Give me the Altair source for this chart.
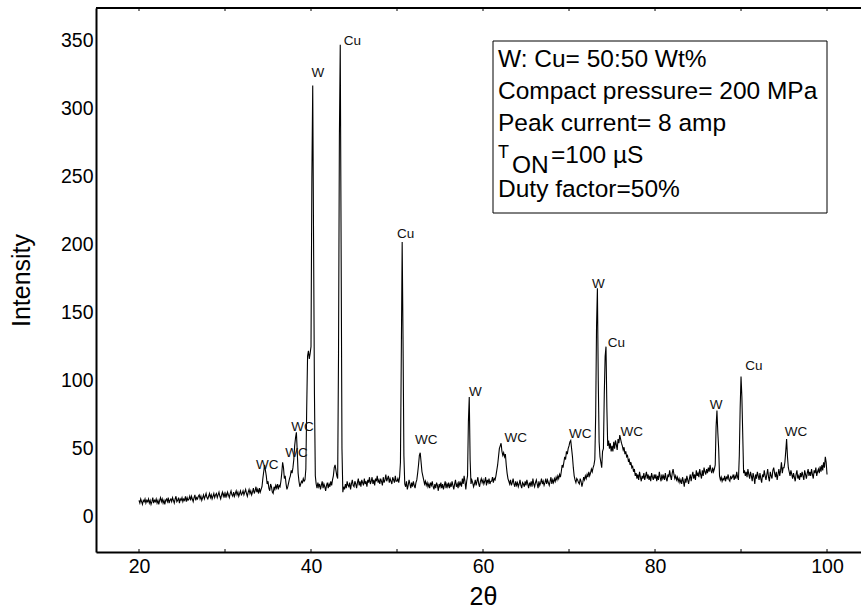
import altair as alt
import pandas as pd

FONT = "Liberation Sans"

# ---- XRD pattern: intensity sampled every 0.1 deg from 20.0 to 100.0 (2-theta) ----
START = 20.0
STEP = 0.1
intensity = [
    12, 10, 13, 11, 9, 12, 11, 13, 10, 12,      # 20
    11, 13, 10, 12, 9, 11, 14, 10, 12, 11,      # 21
    13, 10, 12, 9, 12, 14, 11, 13, 10, 12,      # 22
    9, 12, 13, 11, 14, 10, 12, 13, 11, 14,      # 23
    12, 10, 13, 15, 11, 12, 14, 10, 13, 12,     # 24
    14, 11, 13, 12, 15, 11, 14, 12, 13, 15,     # 25
    12, 15, 13, 11, 14, 16, 12, 14, 13, 15,     # 26
    16, 13, 15, 12, 14, 16, 13, 15, 17, 14,     # 27
    13, 15, 17, 14, 16, 13, 15, 17, 14, 16,     # 28
    17, 14, 16, 18, 15, 13, 16, 18, 15, 17,     # 29
    14, 17, 15, 18, 16, 14, 17, 19, 16, 15,     # 30
    18, 15, 17, 19, 16, 18, 15, 17, 19, 16,     # 31
    17, 19, 16, 18, 20, 17, 15, 18, 20, 17,     # 32
    19, 16, 18, 21, 17, 19, 22, 18, 20, 17,     # 33
    21, 18, 20, 22, 28, 33, 38, 34, 30, 24,     # 34
    26, 21, 19, 24, 22, 18, 17, 22, 20, 23,     # 35
    21, 24, 20, 23, 22, 26, 32, 40, 36, 28,     # 36
    30, 24, 20, 22, 25, 28, 30, 34, 32, 36,     # 37
    42, 52, 58, 62, 48, 32, 26, 22, 24, 26,     # 38
    25, 28, 26, 27, 35, 80, 118, 122, 116, 120, # 39
    125, 250, 317, 200, 90, 30, 24, 21, 25, 22, # 40
    24, 20, 23, 26, 21, 24, 22, 19, 23, 25,     # 41
    21, 24, 22, 26, 23, 27, 30, 36, 38, 34,     # 42
    30, 28, 120, 280, 347, 200, 50, 18, 22, 20, # 43
    24, 21, 26, 23, 22, 25, 20, 24, 27, 23,     # 44
    22, 26, 24, 21, 25, 28, 23, 26, 22, 27,     # 45
    25, 23, 28, 24, 26, 22, 27, 25, 29, 24,     # 46
    26, 29, 24, 27, 23, 28, 26, 30, 25, 27,     # 47
    24, 28, 26, 23, 29, 25, 27, 31, 26, 28,     # 48
    30, 25, 28, 26, 24, 29, 27, 25, 30, 26,     # 49
    26, 28, 25, 29, 40, 120, 202, 130, 45, 24,  # 50
    22, 26, 20, 23, 27, 24, 21, 25, 22, 26,     # 51
    23, 21, 25, 27, 32, 38, 45, 47, 40, 33,     # 52
    30, 27, 24, 26, 23, 25, 22, 24, 21, 25,     # 53
    23, 26, 22, 20, 24, 21, 25, 23, 19, 24,     # 54
    22, 25, 21, 24, 20, 23, 26, 21, 24, 22,     # 55
    25, 21, 24, 22, 26, 23, 20, 24, 27, 22,     # 56
    24, 21, 26, 23, 25, 22, 28, 24, 30, 26,     # 57
    20, 26, 30, 70, 88, 42, 24, 27, 25, 22,     # 58
    24, 27, 23, 26, 29, 24, 22, 26, 28, 25,     # 59
    27, 24, 26, 29, 23, 27, 25, 28, 24, 26,     # 60
    26, 29, 25, 28, 27, 30, 34, 38, 44, 50,     # 61
    52, 54, 48, 45, 47, 44, 46, 38, 32, 28,     # 62
    26, 24, 27, 23, 25, 28, 24, 22, 26, 23,     # 63
    25, 22, 24, 27, 23, 21, 25, 24, 22, 26,     # 64
    23, 27, 24, 21, 25, 23, 26, 22, 28, 24,     # 65
    22, 25, 27, 24, 21, 26, 23, 25, 28, 24,     # 66
    26, 23, 25, 28, 24, 27, 25, 23, 26, 29,     # 67
    24, 27, 25, 28, 26, 29, 27, 30, 28, 31,     # 68
    29, 33, 38, 36, 40, 44, 42, 48, 46, 50,     # 69
    52, 55, 56, 50, 44, 36, 30, 27, 25, 28,     # 70
    27, 25, 24, 28, 26, 22, 25, 29, 27, 30,     # 71
    28, 31, 29, 33, 30, 32, 35, 33, 36, 38,     # 72
    42, 75, 140, 168, 100, 55, 44, 40, 36, 48,  # 73
    50, 90, 118, 125, 80, 52, 56, 50, 54, 48,   # 74
    52, 48, 55, 50, 56, 53, 49, 57, 54, 60,     # 75
    57, 54, 52, 49, 51, 46, 48, 44, 45, 41,     # 76
    42, 38, 40, 36, 37, 33, 35, 30, 32, 28,     # 77
    31, 27, 33, 29, 26, 30, 28, 32, 27, 30,     # 78
    33, 28, 31, 27, 30, 26, 32, 29, 27, 31,     # 79
    28, 31, 26, 30, 27, 33, 29, 26, 31, 28,     # 80
    30, 27, 32, 28, 26, 31, 29, 34, 30, 27,     # 81
    32, 35, 31, 28, 30, 27, 29, 26, 28, 25,     # 82
    27, 24, 29, 26, 22, 28, 25, 30, 27, 24,     # 83
    28, 31, 26, 30, 33, 28, 31, 27, 34, 30,     # 84
    32, 29, 35, 31, 28, 34, 30, 36, 33, 31,     # 85
    35, 32, 36, 33, 38, 34, 32, 36, 33, 35,     # 86
    38, 66, 78, 62, 50, 30, 27, 29, 26, 28,     # 87
    27, 30, 26, 29, 28, 31, 27, 26, 30, 28,     # 88
    29, 31, 27, 30, 28, 33, 29, 27, 45, 80,     # 89
    103, 88, 60, 32, 34, 30, 33, 29, 35, 31,    # 90
    28, 33, 30, 26, 32, 29, 24, 31, 28, 33,     # 91
    30, 27, 32, 28, 25, 31, 29, 34, 30, 27,     # 92
    31, 35, 29, 26, 33, 30, 28, 34, 36, 32,     # 93
    29, 33, 27, 31, 35, 30, 34, 40, 32, 36,     # 94
    36, 40, 48, 57, 44, 36, 33, 30, 34, 31,     # 95
    28, 32, 29, 26, 31, 34, 28, 30, 27, 32,     # 96
    29, 33, 30, 27, 34, 31, 28, 32, 35, 30,     # 97
    33, 30, 35, 31, 28, 34, 32, 36, 30, 33,     # 98
    35, 32, 37, 33, 38, 34, 40, 36, 44, 40,     # 99
    31,                                         # 100
]
two_theta = [round(START + i * STEP, 1) for i in range(len(intensity))]

# ---- peak identification labels (placed where they appear in the figure) ----
peak_labels = ["WC", "WC", "WC", "W", "Cu", "Cu", "WC", "W", "WC", "WC",
               "W", "Cu", "WC", "W", "Cu", "WC"]
label_2theta = [34.9, 38.3, 39.0, 40.8, 44.8, 51.0, 53.4, 59.1, 63.8, 71.3,
                73.4, 75.5, 77.3, 87.1, 91.5, 96.4]
label_intensity = [38, 47, 66, 326, 350, 208, 56, 92, 58, 61,
                   171, 128, 62, 82, 111, 62]

# ---- axes ----
x_ticks = [20, 40, 60, 80, 100]
x_minor = [20, 30, 40, 50, 60, 70, 80, 90, 100]
y_ticks = [0, 50, 100, 150, 200, 250, 300, 350]
x_domain = [15, 103.95]
y_domain = [-26, 374]

# ---- info box text ----
info_lines = ["W: Cu= 50:50 Wt%", "Compact pressure= 200 MPa", "Peak current= 8 amp"]
ton_main, ton_sub, ton_rest = "T", "ON", "=100 µS"
duty_line = "Duty factor=50%"

W, H = 765, 544

df = pd.DataFrame({"two_theta": two_theta, "intensity": intensity})
lab = pd.DataFrame({"two_theta": label_2theta, "intensity": label_intensity, "t": peak_labels})
minor = pd.DataFrame({"two_theta": x_minor})
one = pd.DataFrame({"k": [0]})

xs = alt.Scale(domain=x_domain, nice=False, zero=False)
ys = alt.Scale(domain=y_domain, nice=False, zero=False)

x_axis = alt.Axis(values=x_ticks, ticks=False, grid=False, labelPadding=5)
y_axis = alt.Axis(values=y_ticks, ticks=False, grid=False, labelPadding=3)

X = alt.X("two_theta:Q", scale=xs, axis=x_axis, title="2θ")
Y = alt.Y("intensity:Q", scale=ys, axis=y_axis, title="Intensity")

line = alt.Chart(df).mark_line(color="black", strokeWidth=1.1).encode(x=X, y=Y)

labels = alt.Chart(lab).mark_text(font=FONT, fontSize=13.5, color="#111",
                                  align="center", baseline="middle").encode(
    x=X, y=Y, text="t:N",
)

bottom_ticks = alt.Chart(minor).mark_rule(color="black", strokeWidth=1).encode(
    x=X, y=alt.value(H), y2=alt.value(H - 3))
top_ticks = alt.Chart(minor).mark_rule(color="black", strokeWidth=1).encode(
    x=X, y=alt.value(0), y2=alt.value(3))

top_border = alt.Chart(one).mark_rule(color="black", strokeWidth=2).encode(
    x=alt.value(0), x2=alt.value(W), y=alt.value(0))

box = alt.Chart(one).mark_rect(filled=False, stroke="black", strokeWidth=1).encode(
    x=alt.value(397), x2=alt.value(731), y=alt.value(33), y2=alt.value(205))

def txt(s, x, y, size=24.5):
    return alt.Chart(pd.DataFrame({"s": [s]})).mark_text(
        font=FONT, fontSize=size, color="black", align="left", baseline="alphabetic"
    ).encode(x=alt.value(x), y=alt.value(y), text="s:N")

texts = [
    txt(info_lines[0], 402, 59),
    txt(info_lines[1], 402, 91),
    txt(info_lines[2], 402, 123),
    txt(ton_main, 402, 150, 18),
    txt(ton_sub, 416, 165),
    txt(ton_rest, 455, 155),
    txt(duty_line, 402, 189),
]

chart = alt.layer(line, labels, bottom_ticks, top_ticks, top_border, box, *texts).properties(
    width=W, height=H,
    autosize=alt.AutoSizeParams(type="none"),
    padding={"left": 96, "top": 8, "right": 0, "bottom": 61},
).configure_view(stroke=None).configure(background="white").configure_axis(
    domainColor="black", domainWidth=2, labelColor="black", titleColor="black",
    labelFont=FONT, titleFont=FONT, labelFontSize=19.5, titleFontSize=25,
    titleFontWeight="normal",
).configure_axisX(titlePadding=9, titleX=387).configure_axisY(titlePadding=26)

chart.save("out.html", embed_options={"renderer": "svg", "actions": False})
